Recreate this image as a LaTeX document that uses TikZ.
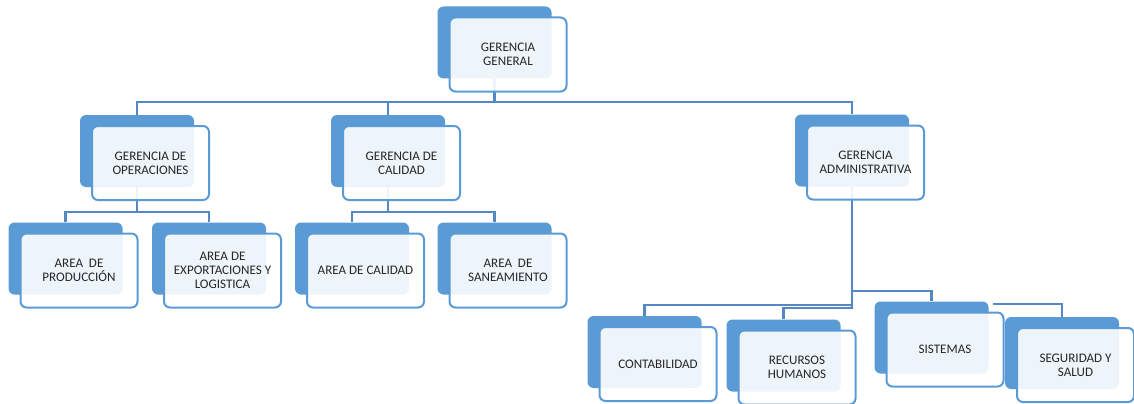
\documentclass[tikz,border=0pt]{standalone}
\usepackage{fontspec}
\setmainfont{Carlito}
\usetikzlibrary{calc,backgrounds}

\definecolor{azul}{RGB}{91,155,213}
\definecolor{linea}{RGB}{84,135,195}
\definecolor{texto}{RGB}{38,38,38}

% un cuadro: fondo azul y frente claro
\newcommand{\unidad}[3]{%
  \node[fondo] (#1B) at (#2) {};
  \node[frente] (#1) at ($(#1B)+(13.5,12)$) {#3};
}

\begin{document}
\begin{tikzpicture}[x=0.75pt,y=-0.75pt,
  fondo/.style={rectangle,rounded corners=4.5pt,fill=azul,minimum width=85.5pt,minimum height=54pt,inner sep=0pt},
  frente/.style={rectangle,rounded corners=4.5pt,draw=azul,line width=1.5pt,fill=white,fill opacity=0.9,text opacity=1,
    minimum width=87.75pt,minimum height=55.5pt,inner sep=0pt,align=center,text=texto,
    font=\fontsize{9.8}{10.5}\selectfont},
  conector/.style={draw=linea,line width=1.7pt}]

\useasboundingbox (0,0) rectangle (1134,403);

% nivel 1
\unidad{gg}{494.5,42.5}{GERENCIA\\GENERAL}

% nivel 2
\unidad{op}{137,151}{GERENCIA DE\\OPERACIONES}
\unidad{cal}{388,151}{GERENCIA DE\\CALIDAD}
\unidad{adm}{852,150.5}{GERENCIA\\ADMINISTRATIVA}

% nivel 3
\unidad{prod}{65.5,258.5}{AREA~~DE\\PRODUCCIÓN}
\unidad{exp}{209,258.5}{AREA DE\\EXPORTACIONES Y\\LOGISTICA}
\unidad{acal}{352,258.5}{AREA DE CALIDAD}
\unidad{san}{494.5,258.5}{AREA~~DE\\SANEAMIENTO}

% nivel 4
\unidad{cont}{644.5,352}{CONTABILIDAD}
\unidad{rrhh}{783.5,355.5}{RECURSOS\\HUMANOS}
\unidad{sis}{931.5,337.5}{SISTEMAS}
\unidad{seg}{1062,353}{SEGURIDAD Y\\SALUD}

% lineas
\begin{pgfonlayer}{background}
\draw[conector] (ggB.south) -- ++(0,23) -| (opB.north);
\draw[conector] (ggB.south) -- ++(0,23) -| (calB.north);
\draw[conector] (ggB.south) -- ++(0,23) -| (admB.north);

\draw[conector] (opB.south) -- ++(0,25) -| (prodB.north);
\draw[conector] (opB.south) -- ++(0,25) -| (expB.north);
\draw[conector] (calB.south) -- ++(0,25) -| (acalB.north);
\draw[conector] (calB.south) -- ++(0,25) -| (sanB.north);

\draw[conector] (admB.south) -- ++(0,118) -| (contB.north);
\draw[conector] (admB.south) -- ++(0,121) -| (rrhhB.north);
\draw[conector] (admB.south) -- ++(0,104) -| (sisB.north);
\draw[conector] ($(sisB.north east)+(4,3)$) -| (segB.north);
\end{pgfonlayer}

\end{tikzpicture}
\end{document}
